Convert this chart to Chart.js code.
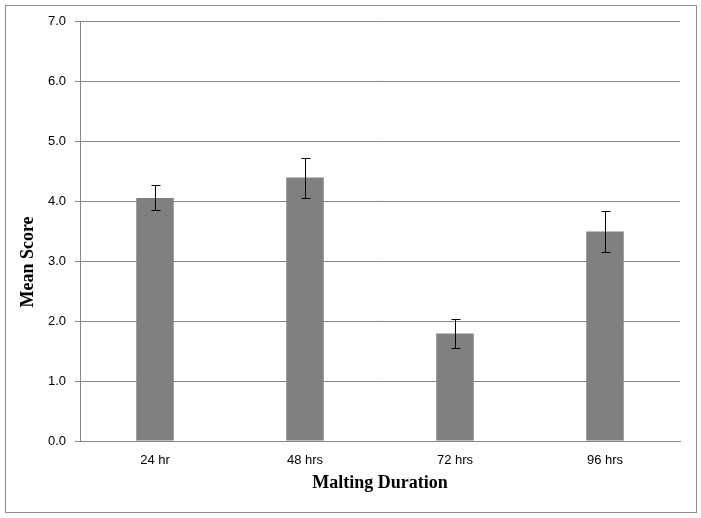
<!DOCTYPE html>
<html>
<head>
<meta charset="utf-8">
<script src="https://cdn.jsdelivr.net/npm/chart.js@4"></script>
<style>
  html, body { margin: 0; padding: 0; background: #fff; }
  #wrap { width: 701px; height: 518px; }
</style>
</head>
<body>
<div id="wrap"><canvas id="barCanvas" width="701" height="518"></canvas></div>
<script>
// malting duration vs mean score

var categories = ["24 hr", "48 hrs", "72 hrs", "96 hrs"];
var meanScores = [4.05, 4.39, 1.79, 3.49];
var errorUp = [0.22, 0.33, 0.24, 0.34];
var errorDown = [0.20, 0.34, 0.24, 0.34];
var yTitle = "Mean Score";
var xTitle = "Malting Duration";

// border round the whole chart + y title (sits a bit below the middle, like the original)
var frame = {
  id: "frame",
  beforeDraw: function(chart) {
    var ctx = chart.ctx;
    ctx.save();
    ctx.fillStyle = "#fff";
    ctx.fillRect(0, 0, chart.width, chart.height);
    ctx.strokeStyle = "#8c8c8c";
    ctx.lineWidth = 1;
    ctx.strokeRect(5.5, 5.5, 691, 507);
    ctx.restore();
  },
  afterDraw: function(chart) {
    var ctx = chart.ctx;
    ctx.save();
    ctx.translate(28, chart.chartArea.bottom - 179);
    ctx.rotate(-Math.PI / 2);
    ctx.font = "bold 18px 'Liberation Serif'";
    ctx.fillStyle = "#000";
    ctx.textAlign = "center";
    ctx.textBaseline = "middle";
    ctx.fillText(yTitle, 0, 0);
    ctx.restore();
  }
};

// error bars, drawn through the scales
var errorBars = {
  id: "errorBars",
  afterDatasetsDraw: function(chart) {
    var ctx = chart.ctx;
    var x = chart.scales.x;
    var y = chart.scales.y;
    ctx.save();
    ctx.strokeStyle = "#000";
    ctx.lineWidth = 1;
    meanScores.forEach(function(v, i) {
      var px = Math.round(x.getPixelForValue(i)) + 0.5;
      var top = Math.round(y.getPixelForValue(v + errorUp[i])) + 0.5;
      var bot = Math.round(y.getPixelForValue(v - errorDown[i])) + 0.5;
      ctx.beginPath();
      ctx.moveTo(px, top);
      ctx.lineTo(px, bot);
      ctx.moveTo(px - 4, top);
      ctx.lineTo(px + 5, top);
      ctx.moveTo(px - 4, bot);
      ctx.lineTo(px + 5, bot);
      ctx.stroke();
    });
    ctx.restore();
  }
};

var graphData = {
  type: "bar",
  data: {
    labels: categories,
    datasets: [
      {
        label: yTitle,
        data: meanScores,
        backgroundColor: "#808080",
        borderWidth: 0,
        barPercentage: 0.25,
        categoryPercentage: 1.0
      }
    ]
  },
  options: {
    responsive: false,
    animation: false,
    layout: {
      padding: { left: 8, right: 21, top: 21, bottom: 0 }
    },
    plugins: {
      legend: { display: false },
      tooltip: { enabled: false }
    },
    scales: {
      x: {
        grid: { display: false, drawTicks: false },
        border: { display: true, color: "#868686", width: 1 },
        ticks: {
          padding: 12,
          color: "#000",
          font: { family: "Liberation Sans", size: 13 }
        },
        title: {
          display: true,
          text: xTitle,
          color: "#000",
          padding: { top: 0, bottom: 24 },
          font: { family: "Liberation Serif", size: 18, weight: "bold" }
        },
        afterFit: function(scale) { scale.height = 77; }
      },
      y: {
        min: 0,
        max: 7,
        grid: {
          color: "#868686",
          lineWidth: 1,
          drawTicks: true,
          tickLength: 5
        },
        border: { display: true, color: "#868686", width: 1 },
        ticks: {
          stepSize: 1,
          padding: 9,
          color: "#000",
          font: { family: "Liberation Sans", size: 13 },
          callback: function(v) { return v.toFixed(1); }
        },
        title: { display: false },
        afterFit: function(scale) { scale.width = 72; }
      }
    }
  },
  plugins: [frame, errorBars]
};

var context = document.getElementById("barCanvas").getContext("2d");
var barChart = new Chart(context, graphData);
</script>
</body>
</html>
